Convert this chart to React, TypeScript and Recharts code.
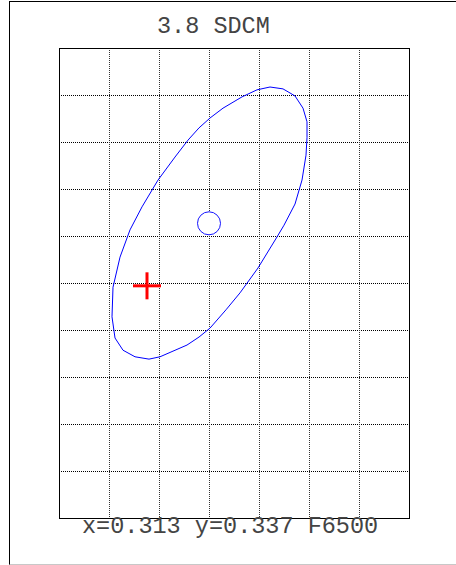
import React from 'react'
import { ComposedChart, Scatter, XAxis, YAxis, CartesianGrid, ReferenceArea } from 'recharts'

// grid is 7 x 10 cells, coordinates below are in cell units
const X_TICKS = [0, 1, 2, 3, 4, 5, 6, 7]
const Y_TICKS = [0, 1, 2, 3, 4, 5, 6, 7, 8, 9, 10]

const ELLIPSE_X = [4.22, 4.48, 4.72, 4.88, 4.96, 4.96, 4.94, 4.86, 4.72, 4.5, 4.36, 3.98, 3.62, 3.34, 3.02, 2.8, 2.56, 2.02, 1.8, 1.52, 1.28, 1.12, 1.06, 1.08, 1.22, 1.42, 1.66, 1.98, 2.32, 2.58, 2.8, 3.02, 3.28, 3.66, 3.96, 4.22]
const ELLIPSE_Y = [9.17, 9.13, 8.98, 8.72, 8.43, 8.09, 7.72, 7.19, 6.68, 6.23, 5.98, 5.32, 4.79, 4.43, 4.04, 3.85, 3.68, 3.43, 3.38, 3.43, 3.57, 3.83, 4.28, 4.91, 5.55, 6.13, 6.62, 7.19, 7.68, 8.04, 8.3, 8.51, 8.72, 8.96, 9.11, 9.17]

const MEASURED_X = [3.0]
const MEASURED_Y = [6.27]

const TARGET_X = [1.76]
const TARGET_Y = [4.94]

const TITLE = '3.8 SDCM'
const FOOTER = 'x=0.313 y=0.337 F6500'

const toPoints = (xs: number[], ys: number[]) => xs.map((x, i) => ({ x, y: ys[i] }))

const ellipse = toPoints(ELLIPSE_X, ELLIPSE_Y)
const measured = toPoints(MEASURED_X, MEASURED_Y)
const target = toPoints(TARGET_X, TARGET_Y)

const font = '"Liberation Mono", "DejaVu Sans Mono", monospace'

const Ring = (props: any) => (
  <circle cx={props.cx} cy={props.cy} r={11.5} fill="#fff" stroke="#1515ff" strokeWidth={1} />
)

const Cross = (props: any) => (
  <g stroke="#ff0000" strokeWidth={3}>
    <line x1={props.cx - 14} y1={props.cy} x2={props.cx + 14} y2={props.cy} />
    <line x1={props.cx} y1={props.cy - 13.5} x2={props.cx} y2={props.cy + 13.5} />
  </g>
)

export default function App() {
  return (
    <div style={{ position: 'absolute', left: 0, top: 0, width: 456, height: 565, background: '#fff' }}>
      <div
        style={{
          position: 'absolute',
          left: 9,
          top: 1,
          width: 447,
          height: 564,
          boxSizing: 'border-box',
          borderLeft: '1px solid #000',
          borderTop: '1px solid #000',
          borderBottom: '1px solid #c8c8c8',
        }}
      />
      <div style={{ position: 'absolute', left: 0, top: 0 }}>
        <ComposedChart width={456} height={565} margin={{ top: 48, right: 47, bottom: 47, left: 59 }}>
          <XAxis type="number" dataKey="x" domain={[0, 7]} ticks={X_TICKS} hide />
          <YAxis type="number" dataKey="y" domain={[0, 10]} ticks={Y_TICKS} hide />
          <CartesianGrid vertical={false} stroke="#000" strokeDasharray="1 1" shapeRendering="crispEdges" />
          <CartesianGrid horizontal={false} stroke="#333" strokeDasharray="1 1" shapeRendering="crispEdges" />
          <ReferenceArea
            x1={0}
            x2={7}
            y1={0}
            y2={10}
            fill="none"
            fillOpacity={0}
            stroke="#000"
            strokeWidth={1}
            shapeRendering="crispEdges"
          />
          <Scatter
            data={ellipse}
            line={{ stroke: '#0000ff', strokeWidth: 1 }}
            shape={() => <g />}
            isAnimationActive={false}
          />
          <Scatter data={measured} shape={Ring} isAnimationActive={false} />
          <Scatter data={target} shape={Cross} isAnimationActive={false} />
        </ComposedChart>
      </div>
      <svg width={456} height={565} style={{ position: 'absolute', left: 0, top: 0, pointerEvents: 'none' }}>
        <text x={157} y={33} fontFamily={font} fontSize={23.5} fill="#444">
          {TITLE}
        </text>
        <text x={82} y={533} fontFamily={font} fontSize={23.5} fill="#444">
          {FOOTER}
        </text>
      </svg>
    </div>
  )
}
